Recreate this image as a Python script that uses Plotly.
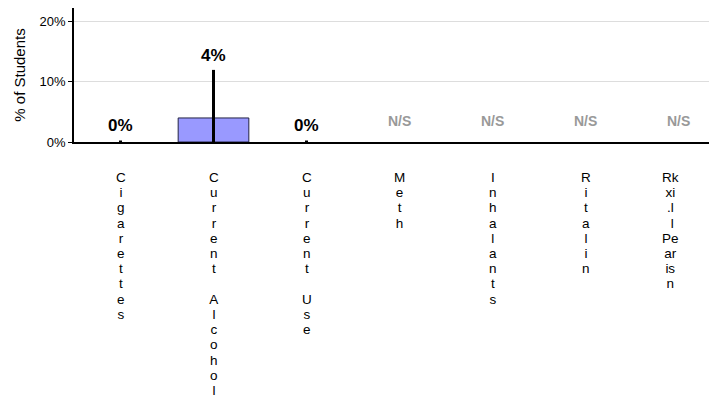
import plotly.graph_objects as go

categories = ["Cigarettes", "Current Alcohol", "Current Use", "Meth", "Inhalants", "Ritalin", "Rx. Painkillers"]
# how each category label is wrapped into side-by-side vertical columns
label_columns = [["Cigarettes"], ["Current Alcohol"], ["Current Use"], ["Meth"],
                 ["Inhalants"], ["Ritalin"], ["Rx. Pain", "killers"]]
values = [0, 4, 0, None, None, None, None]          # percent of students; None = not shown
err_plus = [0.25, 8, 0.25, 0, 0, 0, 0]
err_minus = [0.25, 4, 0.25, 0, 0, 0, 0]
value_labels = ["0%", "4%", "0%", "N/S", "N/S", "N/S", "N/S"]
y_ticks = [0, 10, 20]
y_tick_labels = ["0%", "10%", "20%"]

FONT = "Liberation Sans, Arial, sans-serif"

fig = go.Figure()
fig.add_trace(go.Bar(
    x=categories, y=values, width=0.76,
    marker=dict(color="#9999FF",
                line=dict(color="#222244", width=[1 if v else 0 for v in values])),
    error_y=dict(type="data", symmetric=False, array=err_plus, arrayminus=err_minus,
                 color="black", thickness=3, width=0),
    hoverinfo="skip",
))

annotations = []
for cat, v, ep, lab in zip(categories, values, err_plus, value_labels):
    if lab == "N/S":
        annotations.append(dict(x=cat, y=0, text="<b>N/S</b>", showarrow=False,
                                yanchor="bottom", yshift=11,
                                font=dict(family=FONT, size=14, color="#999999")))
    else:
        top = v + (ep if v > 0 else 0)
        annotations.append(dict(x=cat, y=top, text="<b>%s</b>" % lab, showarrow=False,
                                yanchor="bottom", yshift=3 if v > 0 else 5,
                                font=dict(family=FONT, size=17, color="black")))

# vertical, letter-by-letter category labels (glyphs 13.5px on a 15px line pitch)
for cat, cols in zip(categories, label_columns):
    nrows = max(len(c) for c in cols)
    rows = []
    for i in range(nrows):
        row = "".join(c[i] if i < len(c) else " " for c in cols)
        row = row.rstrip().replace(" ", "&nbsp;") or "&nbsp;"
        rows.append('<span style="font-size:13.5px">%s</span>' % row)
    annotations.append(dict(x=cat, y=0, text="<br>".join(rows), showarrow=False,
                            yanchor="top", yshift=-26, align="center",
                            xshift=-8 if len(cols) > 1 else 0,
                            font=dict(family=FONT, size=11.7, color="black")))

fig.update_layout(
    width=709, height=392,
    margin=dict(l=66, r=0, t=0, b=258),
    plot_bgcolor="white", paper_bgcolor="white",
    showlegend=False,
    annotations=annotations,
    xaxis=dict(range=[-0.5, 6.414], showticklabels=False, ticks="",
               showline=True, linecolor="black", linewidth=1.5, showgrid=False,
               zeroline=False),
    yaxis=dict(range=[0, 22.3], tickvals=y_ticks, ticktext=y_tick_labels,
               showline=True, linecolor="black", linewidth=1.5,
               ticks="outside", ticklen=4, tickcolor="black",
               showgrid=True, gridcolor="#dddddd", gridwidth=1, zeroline=False,
               tickfont=dict(family=FONT, size=13, color="black"),
               title=dict(text="% of Students", standoff=10,
                          font=dict(family=FONT, size=15, color="black"))),
)

fig.write_html("out.html")
